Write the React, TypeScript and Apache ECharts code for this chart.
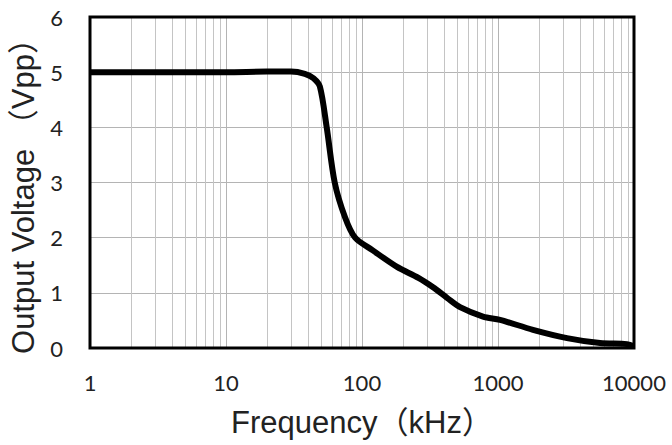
import React, { useEffect, useRef } from "react";
import * as echarts from "echarts";

const frequencyKHz = [1, 5, 10, 20, 30, 38, 44, 49, 55, 63, 75, 89, 120, 181, 260, 333, 422, 526, 776, 1035, 1808, 3215, 5623, 8900, 10000];
const outputVpp = [5.0, 5.0, 5.0, 5.01, 5.01, 4.97, 4.89, 4.74, 4.0, 3.0, 2.37, 2.0, 1.77, 1.47, 1.27, 1.1, 0.91, 0.74, 0.57, 0.51, 0.33, 0.18, 0.09, 0.07, 0.03];
const decades = [1, 10, 100, 1000];
const minorSteps = [2, 3, 4, 5, 6, 7, 8, 9];
const xTitle = "Frequency（kHz）";
const yTitle = "Output Voltage （Vpp）";

export default function App() {
  const ref = useRef<HTMLDivElement>(null);
  useEffect(() => {
    if (!ref.current) return;
    const chart = echarts.init(ref.current, undefined, { renderer: "svg" });
    const minorLines: any[] = [];
    decades.forEach((d) => minorSteps.forEach((s) => minorLines.push({ xAxis: d * s })));
    const pts = frequencyKHz.map((f, i) => [f, outputVpp[i]]);
    const tickFont = { fontFamily: "Lato, 'Liberation Sans', sans-serif", fontSize: 22, color: "#222" };
    const titleFont = { fontFamily: "'Liberation Sans', 'Noto Sans CJK SC', sans-serif", fontSize: 31, color: "#222" };
    chart.setOption({
      animation: false,
      backgroundColor: "#fff",
      grid: {
        left: 90,
        right: 38,
        top: 17,
        bottom: 97,
        show: true,
        borderColor: "#000",
        borderWidth: 3,
        z: 10,
      },
      xAxis: {
        type: "log",
        logBase: 10,
        min: 1,
        max: 10000,
        name: xTitle,
        nameLocation: "middle",
        nameGap: 59,
        nameTextStyle: titleFont,
        axisLine: { show: false },
        axisTick: { show: false },
        axisLabel: { ...tickFont, margin: 23, formatter: (v: number) => String(v) },
        splitLine: { show: true, lineStyle: { color: "#b4b4b4", width: 1 } },
      },
      yAxis: {
        type: "value",
        min: 0,
        max: 6,
        interval: 1,
        name: yTitle,
        nameLocation: "middle",
        nameGap: 47,
        nameTextStyle: { ...titleFont, padding: [0, 12, 0, 0] },
        axisLine: { show: false },
        axisTick: { show: false },
        axisLabel: { ...tickFont, margin: 27 },
        splitLine: { show: true, lineStyle: { color: "#b4b4b4", width: 1 } },
      },
      series: [
        {
          type: "line",
          data: pts,
          z: 1,
          silent: true,
          symbol: "none",
          lineStyle: { opacity: 0 },
          markLine: {
            silent: true,
            symbol: "none",
            label: { show: false },
            lineStyle: { color: "#c4c4c4", width: 1, type: "solid" },
            data: minorLines,
          },
        },
        {
          type: "line",
          data: pts,
          z: 5,
          smooth: 0.3,
          symbol: "none",
          lineStyle: { color: "#000", width: 6 },
        },
      ],
    });
    return () => chart.dispose();
  }, []);
  return <div ref={ref} style={{ position: "fixed", left: 0, top: 0, width: 672, height: 445 }} />;
}
